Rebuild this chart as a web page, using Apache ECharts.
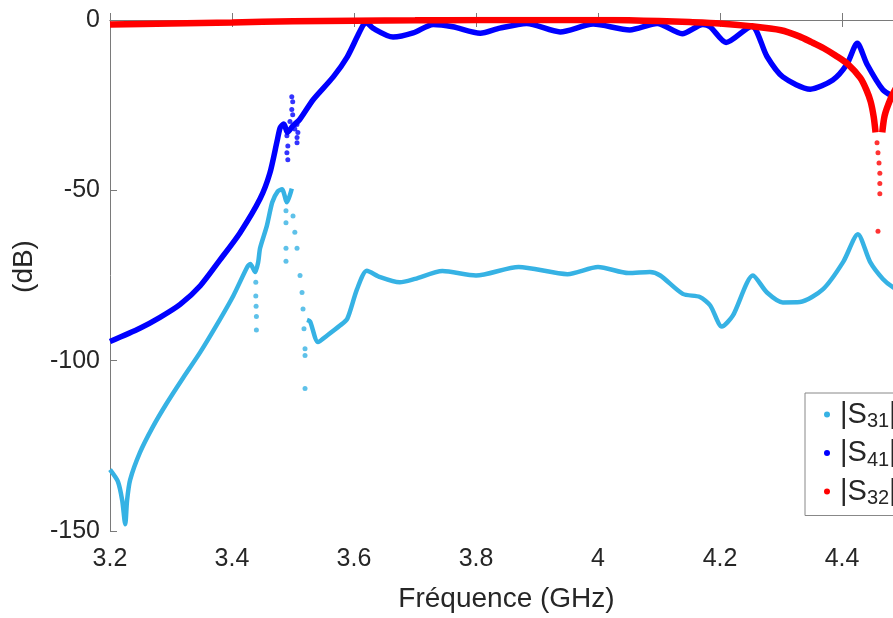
<!DOCTYPE html>
<html><head><meta charset="utf-8">
<script src="https://cdn.jsdelivr.net/npm/echarts@6/dist/echarts.min.js"></script>
<style>html,body{margin:0;padding:0;background:#fff}#c{width:893px;height:618px}</style>
</head><body><div id="c"></div>
<script>
// ---- data (frequency in GHz, magnitude in dB) ----
const seriesNames = ['S31', 'S41', 'S32'];
const yTicks = [-150, -100, -50, 0];
const xRange = [3.2, 4.4836];

const s31F = [3.200,3.213,3.220,3.225,3.228,3.233,3.249,3.270,3.293,3.320,3.348,3.375,3.402,3.425,3.430,3.438,3.443,3.446,3.457,3.466,3.475,3.482,3.490,3.498,3.505,3.523,3.528,3.541,3.556,3.577,3.589,3.605,3.621,3.643,3.675,3.700,3.745,3.800,3.870,3.950,4.000,4.050,4.085,4.102,4.139,4.167,4.184,4.203,4.221,4.254,4.277,4.303,4.331,4.369,4.402,4.426,4.446,4.467,4.484,4.500];
const s31V = [-132,-135.5,-141,-148,-141,-135,-127,-119.5,-112.5,-105,-97.5,-89.5,-81,-72.5,-71.6,-74,-71,-67,-60.5,-53.5,-50.3,-49.7,-53.5,-49.5,null,-88,-88.5,-94.5,-92.6,-89.7,-87.7,-79,-73.6,-75.5,-77,-76,-73.7,-75,-72.5,-74.6,-72.5,-74.3,-74,-75,-80.4,-81.3,-83.8,-90,-86.8,-75,-80,-82.9,-82.8,-79,-71,-62.9,-71,-76,-78.5,-80];
const s31DotF = [3.439,3.439,3.4395,3.440,3.440,3.4885,3.4885,3.4885,3.4885,3.500,3.503,3.5066,3.5115,3.5148,3.5164,3.518,3.5197,3.5197,3.5197];
const s31DotV = [-77,-81,-84,-87,-91,-56,-59.5,-67,-70.8,-57.5,-62.3,-67,-75,-80,-84.8,-90.6,-96.5,-98.5,-108.2];

const s41F = [3.200,3.249,3.282,3.315,3.348,3.380,3.413,3.446,3.462,3.474,3.479,3.485,3.491,3.500,3.511,3.533,3.566,3.589,3.605,3.615,3.620,3.631,3.664,3.697,3.730,3.762,3.807,3.839,3.883,3.938,3.992,4.052,4.097,4.138,4.172,4.184,4.210,4.252,4.277,4.303,4.348,4.385,4.408,4.425,4.441,4.467,4.484,4.500];
const s41V = [-94.4,-90.5,-87.3,-83.5,-78,-70.5,-62.5,-52.5,-45,-35.5,-31.6,-30.5,-33,-31,-29.2,-23.4,-16.7,-10.8,-5,-1.5,-0.7,-2.4,-5,-3.8,-1.3,-2,-3.9,-2.4,-1.0,-3.5,-1.2,-2.9,-1.0,-4.0,-1.3,-2,-6.6,-1.8,-10.7,-16.7,-20.3,-17.6,-13,-6.8,-13,-20.5,-22.5,-24];
const s41DotF = [3.490,3.4915,3.490,3.4915,3.498,3.4995,3.498,3.4995,3.495,3.5065,3.503,3.508,3.5066,3.5066];
const s41DotV = [-34,-37,-39,-41,-22.5,-24,-26.3,-27.8,-29.8,-30.7,-32,-33,-34.5,-36];

const s32F = [3.20,3.30,3.40,3.50,3.60,3.70,3.80,3.90,4.00,4.05,4.10,4.15,4.20,4.25,4.30,4.33,4.35,4.37,4.39,4.41,4.43,4.44,4.447,4.452,4.455,4.460,4.466,4.470,4.480,4.490,4.500];
const s32V = [-1.3,-1.0,-0.7,-0.4,-0.2,-0.1,0,0,0,-0.1,-0.3,-0.6,-1.0,-1.8,-3.0,-4.8,-6.5,-8.3,-10.5,-13,-17,-20.5,-24,-28.5,-33,null,-33,-28,-23,-19.5,-17];
const s32DotF = [4.4574,4.459,4.4607,4.462,4.462,4.462,4.459];
const s32DotV = [-36,-39,-42,-45,-48,-51,-62];

// ---- helpers ----
const pairs = (f, v) => f.map((x, i) => [x, v[i]]);
const colors = { S31: '#36b2e4', S41: '#0000ff', S32: '#ff0000' };
const FONT = 'Liberation Sans, Arial, sans-serif';
const TXT = '#262626';
const AX = '#7a7a7a';

const chart = echarts.init(document.getElementById('c'), null, { renderer: 'canvas' });

function lineSeries(name, f, v, w) {
  return { name, type: 'line', data: pairs(f, v), showSymbol: false, symbol: 'circle',
    smooth: 0.25, connectNulls: false, color: colors[name], clip: true,
    lineStyle: { width: w, color: colors[name] }, z: 2, animation: false };
}
function dotSeries(name, f, v) {
  return { name, type: 'scatter', data: pairs(f, v), symbol: 'circle', symbolSize: 5,
    itemStyle: { color: colors[name] }, z: 2, animation: false };
}

const option = {
  backgroundColor: '#fff',
  animation: false,
  grid: { left: 110, top: 20, right: 0, height: 513, containLabel: false },
  xAxis: [{
    type: 'value', min: xRange[0], max: xRange[1], interval: 0.2,
    name: 'Fréquence (GHz)', nameLocation: 'middle', nameGap: 54,
    nameTextStyle: { fontSize: 28, fontFamily: FONT, color: TXT, padding: [0, 0, 0, 10] },
    axisLine: { lineStyle: { color: AX, width: 1 } },
    axisTick: { inside: true, length: 7, lineStyle: { color: AX } },
    axisLabel: { fontSize: 25, fontFamily: FONT, color: TXT, margin: 16, showMaxLabel: false },
    splitLine: { show: false }
  }, {
    type: 'value', position: 'top', min: xRange[0], max: xRange[1], interval: 0.2,
    axisLine: { show: true, lineStyle: { color: AX, width: 1 } },
    axisTick: { inside: true, length: 7, lineStyle: { color: AX } },
    axisLabel: { show: false }, splitLine: { show: false }
  }],
  yAxis: [{
    type: 'value', min: yTicks[0], max: yTicks[yTicks.length - 1], interval: 50,
    name: '(dB)', nameLocation: 'middle', nameGap: 72, nameRotate: 90,
    nameTextStyle: { fontSize: 28, fontFamily: FONT, color: TXT, padding: [0, 0, 0, 18] },
    axisLine: { show: true, lineStyle: { color: AX, width: 1 } },
    axisTick: { show: true, inside: true, length: 7, lineStyle: { color: AX } },
    axisLabel: { fontSize: 25, fontFamily: FONT, color: TXT, margin: 10 },
    splitLine: { show: false }
  }],
  legend: {
    data: seriesNames.map(n => ({ name: n, icon: 'circle' })),
    orient: 'vertical', left: 805, top: 393,
    padding: [7, 60, 7, 19], itemGap: 7, itemWidth: 6, itemHeight: 6,
    backgroundColor: '#fff', borderColor: '#888', borderWidth: 1,
    formatter: n => '{b||S}{s|' + n.slice(1) + '}{b||}',
    textStyle: {
      padding: [0, 0, 0, 5],
      rich: {
        b: { fontSize: 29, fontFamily: FONT, color: TXT, lineHeight: 34 },
        s: { fontSize: 20, fontFamily: FONT, color: TXT, lineHeight: 20, verticalAlign: 'bottom' }
      }
    },
    selectedMode: false
  },
  series: [
    lineSeries('S31', s31F, s31V, 4.5),
    dotSeries('S31', s31DotF, s31DotV),
    lineSeries('S41', s41F, s41V, 5.5),
    dotSeries('S41', s41DotF, s41DotV),
    lineSeries('S32', s32F, s32V, 6.5),
    dotSeries('S32', s32DotF, s32DotV)
  ]
};
chart.setOption(option);
</script>
</body></html>
